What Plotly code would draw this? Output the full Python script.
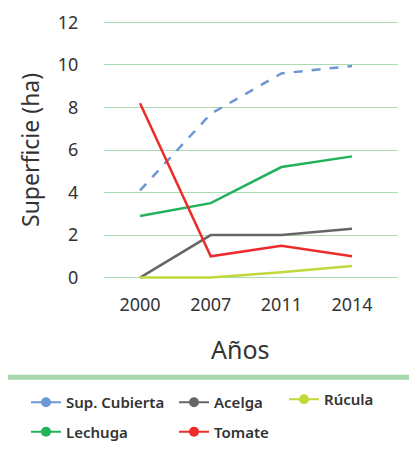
import plotly.graph_objects as go

years = ["2000", "2007", "2011", "2014"]
sup_cubierta = [4.1, 7.7, 9.6, 9.95]
lechuga = [2.9, 3.5, 5.2, 5.7]
acelga = [0.0, 2.0, 2.0, 2.3]
tomate = [8.2, 1.0, 1.5, 1.0]
rucula = [0.0, 0.0, 0.25, 0.55]

series = [
    ("Sup. Cubierta", sup_cubierta, "#6b98d2", "dash", "legend"),
    ("Lechuga", lechuga, "#22b25a", "solid", "legend"),
    ("Acelga", acelga, "#666666", "solid", "legend2"),
    ("Tomate", tomate, "#ee2b2b", "solid", "legend2"),
    ("Rúcula", rucula, "#c3d73a", "solid", "legend3"),
]

FONT = "Noto Sans"
W, H = 417, 450
OFF = 8  # page body margin offset (screen = figure + 8)
# target plot area in screen pixels
L_s, R_s, T_s, B_s = 104, 398, 15.6, 284.4
ml = L_s - OFF
mr = W - (R_s - OFF)
mt = T_s - OFF
mb = H - (B_s - OFF)

fig = go.Figure()
for name, vals, col, dash, lg in series:
    fig.add_trace(go.Scatter(x=years, y=vals, mode="lines", name=name,
                             line=dict(color=col, width=2.5, dash=dash),
                             showlegend=False))
for name, vals, col, dash, lg in series:
    fig.add_trace(go.Scatter(x=[None], y=[None], mode="lines+markers", name=name,
                             line=dict(color=col, width=2),
                             marker=dict(color=col, size=10),
                             legend=lg, legendgroup=name, showlegend=True))

ph = H - mt - mb
pw = W - ml - mr
def py(ys):
    return (B_s - ys) / ph
def px(xs):
    return (xs - L_s) / pw
def cy(ys):
    return (H - (ys - OFF)) / H
def cx(xs):
    return (xs - OFF) / W

legfont = dict(family=FONT, size=15, color="#333333", weight=600)
leg_common = dict(orientation="v", font=legfont, itemwidth=30,
                  bgcolor="rgba(0,0,0,0)", xanchor="left", yanchor="top",
                  xref="container", yref="container",
                  tracegroupgap=7, traceorder="grouped")

fig.update_layout(
    width=W, height=H,
    margin=dict(l=ml, r=mr, t=mt, b=mb, autoexpand=False),
    paper_bgcolor="white", plot_bgcolor="white",
    font=dict(family=FONT, color="#333333"),
    xaxis=dict(type="category", range=[-0.51, 3.65], showgrid=False,
               zeroline=False, showline=False,
               tickfont=dict(family=FONT, size=18, color="#333333"),
               ticks="outside", ticklen=4, tickcolor="rgba(0,0,0,0)"),
    yaxis=dict(range=[-0.3, 12.3], tickvals=[0, 2, 4, 6, 8, 10, 12],
               showgrid=True, gridcolor="#a9dcb0", gridwidth=1,
               zeroline=False, showline=False,
               tickfont=dict(family=FONT, size=18, color="#333333"),
               ticks="outside", ticklen=21, tickcolor="rgba(0,0,0,0)"),
    legend=dict(x=cx(26), y=cy(386), **leg_common),
    legend2=dict(x=cx(174), y=cy(386), **leg_common),
    legend3=dict(x=cx(284), y=cy(383), **leg_common),
    shapes=[dict(type="line", xref="paper", yref="paper",
                 x0=px(0), x1=px(W + 10), y0=py(378), y1=py(378),
                 line=dict(color="#a6d6a9", width=5))],
    annotations=[
        dict(text="Superficie (ha)", xref="paper", yref="paper",
             x=px(30), y=py(150), textangle=-90, showarrow=False,
             xanchor="center", yanchor="middle",
             font=dict(family=FONT, size=23, color="#333333")),
        dict(text="Años", xref="paper", yref="paper",
             x=px(240), y=py(350), showarrow=False,
             xanchor="center", yanchor="middle",
             font=dict(family=FONT, size=25, color="#333333")),
    ],
)

fig.write_html("out.html")
